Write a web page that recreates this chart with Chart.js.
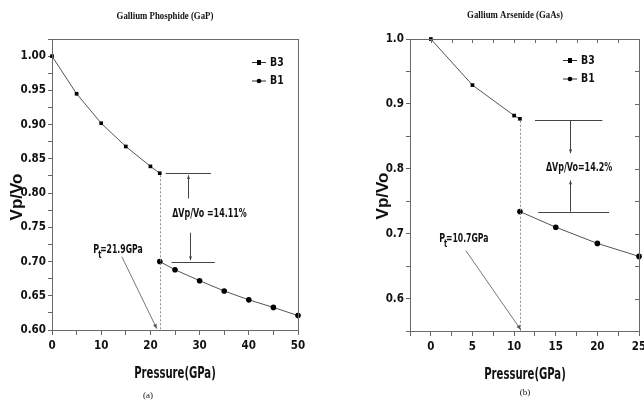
<!DOCTYPE html>
<html>
<head>
<meta charset="utf-8">
<script src="https://cdn.jsdelivr.net/npm/chart.js@4"></script>
<style>
  html,body{margin:0;padding:0;background:#fff;width:644px;height:402px;overflow:hidden;}
  canvas{position:absolute;top:0;}
  #c1{left:0;} #c2{left:322px;}
</style>
</head>
<body>
<canvas id="c1" width="322" height="402"></canvas>
<canvas id="c2" width="322" height="402"></canvas>
<script>
// ---- Data: Gallium Phosphide (GaP) ----
const gapB3Pressure = [0, 5, 10, 15, 20, 21.9];
const gapB3Ratio    = [1.000, 0.945, 0.902, 0.868, 0.839, 0.829];
const gapB1Pressure = [21.9, 25, 30, 35, 40, 45, 50];
const gapB1Ratio    = [0.700, 0.688, 0.672, 0.657, 0.644, 0.633, 0.621];
const gapTransition = 21.9;

// ---- Data: Gallium Arsenide (GaAs) ----
const gaasB3Pressure = [0, 5, 10, 10.7];
const gaasB3Ratio    = [1.000, 0.929, 0.882, 0.877];
const gaasB1Pressure = [10.7, 15, 20, 25];
const gaasB1Ratio    = [0.734, 0.710, 0.685, 0.665];
const gaasTransition = 10.7;

const seriesNames = ['B3', 'B1'];

const NARROW = '"Liberation Sans Narrow", "DejaVu Sans Condensed", "Arial Narrow", sans-serif';
const SANS = '"Liberation Sans", Arial, sans-serif';
const SERIF = '"Liberation Serif", "Times New Roman", serif';

function toXY(xs, ys){ return xs.map((v,i)=>({x:v, y:ys[i]})); }

function arrow(ctx, x1, y1, x2, y2, size){
  ctx.beginPath(); ctx.moveTo(x1,y1); ctx.lineTo(x2,y2); ctx.stroke();
  const a = Math.atan2(y2-y1, x2-x1);
  ctx.beginPath();
  ctx.moveTo(x2,y2);
  ctx.lineTo(x2 - size*Math.cos(a-0.4), y2 - size*Math.sin(a-0.4));
  ctx.lineTo(x2 - size*Math.cos(a+0.4), y2 - size*Math.sin(a+0.4));
  ctx.closePath(); ctx.fill();
}

// text with horizontal compression
function sText(ctx, text, x, y, font, sx, align){
  ctx.save();
  ctx.font = font; ctx.textAlign = align || 'center'; ctx.textBaseline = 'middle';
  ctx.translate(x, y); ctx.scale(sx, 1);
  ctx.fillText(text, 0, 0);
  const w = ctx.measureText(text).width * sx;
  ctx.restore();
  return w;
}

const annotPlugin = {
  id: 'annot',
  afterDraw(chart){
    const spec = chart.options.plugins.annot;
    const {ctx, chartArea: ca} = chart;
    const xs = chart.scales.x, ys = chart.scales.y;
    const X = v => xs.getPixelForValue(v), Y = v => ys.getPixelForValue(v);
    ctx.save();
    // frame
    ctx.strokeStyle = '#6a6a6a'; ctx.lineWidth = 1;
    ctx.strokeRect(Math.round(ca.left)+0.5, Math.round(ca.top)+0.5, Math.round(ca.width), Math.round(ca.height));
    if (spec.innerTicks){
      ctx.beginPath();
      xs.ticks.forEach(t=>{ const px=Math.round(X(t.value))+0.5; ctx.moveTo(px, ca.top); ctx.lineTo(px, ca.top+4); });
      ys.ticks.forEach(t=>{ const py=Math.round(Y(t.value))+0.5; ctx.moveTo(ca.right, py); ctx.lineTo(ca.right-4, py); });
      ctx.stroke();
    }
    // dotted transition line
    ctx.strokeStyle = '#8a8a8a'; ctx.setLineDash([2,2]);
    ctx.beginPath();
    ctx.moveTo(Math.round(X(spec.pt))+0.5, Y(spec.ptTop));
    ctx.lineTo(Math.round(X(spec.pt))+0.5, ca.bottom);
    ctx.stroke();
    ctx.setLineDash([]);
    // delta markers
    ctx.strokeStyle = '#444'; ctx.fillStyle = '#444'; ctx.lineWidth = 1;
    spec.hlines.forEach(h=>{
      ctx.beginPath(); ctx.moveTo(X(h[0]), Math.round(Y(h[2]))+0.5); ctx.lineTo(X(h[1]), Math.round(Y(h[2]))+0.5); ctx.stroke();
    });
    spec.arrows.forEach(a=>{
      arrow(ctx, Math.round(X(a[0]))+0.5, Y(a[1]), Math.round(X(a[2]))+0.5, Y(a[3]), 4);
    });
    // delta text
    ctx.fillStyle = '#111';
    const LBL = 'bold 13px ' + NARROW;
    sText(ctx, spec.deltaText, X(spec.deltaPos[0]), Y(spec.deltaPos[1]), LBL, 0.68, 'center');
    // Pt label
    let lx = X(spec.ptLabelPos[0]), ly = Y(spec.ptLabelPos[1]);
    const pw = sText(ctx, 'P', lx, ly, LBL, 0.68, 'left');
    sText(ctx, 't', lx + pw - 1, ly + 6, 'bold 10px ' + NARROW, 0.75, 'left');
    sText(ctx, spec.ptText, lx + pw + 1, ly, LBL, 0.66, 'left');
    ctx.strokeStyle = '#777'; ctx.fillStyle = '#555';
    const pa = spec.ptArrow;
    arrow(ctx, X(pa[0]), Y(pa[1]), X(pa[2]), Y(pa[3]), 5);
    // legend
    const lg = spec.legend;
    seriesNames.forEach((name, i)=>{
      const yy = lg.y + i*18.5 + 0.5;
      ctx.strokeStyle = '#333'; ctx.lineWidth = 1;
      ctx.beginPath(); ctx.moveTo(lg.x, yy); ctx.lineTo(lg.x+14, yy); ctx.stroke();
      ctx.fillStyle = '#000';
      if (i === 0) ctx.fillRect(lg.x+5, yy-2.5, 4, 5);
      else { ctx.beginPath(); ctx.arc(lg.x+7, yy, 2.3, 0, Math.PI*2); ctx.fill(); }
      ctx.fillStyle = '#111';
      sText(ctx, name, lg.x+18, yy, 'bold 13px ' + NARROW, 0.8, 'left');
    });
    // titles
    ctx.fillStyle = '#111';
    sText(ctx, spec.title, spec.titlePos[0], spec.titlePos[1], 'bold 10px ' + SERIF, 0.88, 'center');
    sText(ctx, spec.sub, spec.subPos[0], spec.subPos[1], '9px ' + SERIF, 1, 'center');
    sText(ctx, 'Pressure(GPa)', spec.xTitlePos[0], spec.xTitlePos[1], 'bold 16px ' + NARROW, 0.7, 'center');
    ctx.save();
    ctx.translate(spec.yTitlePos[0], spec.yTitlePos[1]);
    ctx.rotate(-Math.PI/2);
    ctx.font = 'bold 17px ' + SANS;
    ctx.textAlign = 'center'; ctx.textBaseline = 'middle';
    ctx.fillText('Vp/Vo', 0, 0);
    ctx.restore();
    ctx.restore();
  }
};

function isMult(v, step){ const r = v/step; return Math.abs(r - Math.round(r)) < 1e-6; }

function makeChart(id, d){
  return new Chart(document.getElementById(id), {
    type: 'line',
    data: {
      datasets: [
        { label: seriesNames[0], data: toXY(d.b3x, d.b3y), borderColor: '#555', borderWidth: 1,
          pointStyle: 'rect', pointRadius: 2.6, pointBackgroundColor: '#000', pointBorderColor: '#000', pointBorderWidth: 0, tension: 0 },
        { label: seriesNames[1], data: toXY(d.b1x, d.b1y), borderColor: '#555', borderWidth: 1,
          pointStyle: 'circle', pointRadius: 2.8, pointBackgroundColor: '#000', pointBorderColor: '#000', pointBorderWidth: 0, tension: 0 }
      ]
    },
    options: {
      responsive: false, animation: false, devicePixelRatio: 1,
      clip: false,
      layout: { padding: d.padding },
      plugins: { legend: { display: false }, tooltip: { enabled: false }, title: { display: false }, annot: d.annot },
      scales: {
        x: {
          type: 'linear', min: d.xmin, max: d.xmax,
          ticks: { stepSize: d.xstep, autoSkip: false, maxRotation: 0, padding: 4,
            font: { family: NARROW, size: 11.5, weight: 'bold' }, color: '#111',
            callback: v => isMult(v, d.xmajor) ? String(Math.round(v)) : '' },
          grid: { drawOnChartArea: false, tickLength: 5, color: '#666' },
          border: { color: '#666' },
          afterFit: s => { s.height = d.xHeight; s.paddingLeft = 0; s.paddingRight = 0; }
        },
        y: {
          type: 'linear', min: d.ymin, max: d.ymax,
          ticks: { stepSize: d.ystep, autoSkip: false, padding: 2,
            font: { family: NARROW, size: 11.5, weight: 'bold' }, color: '#111',
            callback: v => isMult(v, d.ymajor) ? v.toFixed(d.ydec) : '' },
          grid: { drawOnChartArea: false, tickLength: 4, color: '#666' },
          border: { color: '#666' },
          afterFit: s => { s.width = d.yWidth; s.paddingTop = 0; s.paddingBottom = 0; }
        }
      }
    },
    plugins: [annotPlugin]
  });
}

makeChart('c1', {
  b3x: gapB3Pressure, b3y: gapB3Ratio, b1x: gapB1Pressure, b1y: gapB1Ratio,
  xmin: 0, xmax: 50, xstep: 5, xmajor: 10,
  ymin: 0.6, ymax: 1.025, ystep: 0.025, ymajor: 0.05, ydec: 2,
  padding: { top: 39, right: 24, left: 0, bottom: 0 },
  yWidth: 52, xHeight: 72,
  annot: {
    pt: gapTransition, ptTop: 0.826,
    hlines: [[23.1, 32.3, 0.829], [24.3, 33.1, 0.700]],
    arrows: [[27.6, 0.792, 27.6, 0.826], [28.0, 0.742, 28.0, 0.702]],
    deltaText: '\u0394Vp/Vo =14.11%', deltaPos: [32.0, 0.770],
    ptText: '=21.9GPa', ptLabelPos: [8.4, 0.717],
    ptArrow: [14.2, 0.707, 21.3, 0.602],
    legend: { x: 252, y: 62 },
    title: 'Gallium Phosphide (GaP)', titlePos: [165, 16],
    sub: '(a)', subPos: [148, 396],
    xTitlePos: [175, 374], yTitlePos: [17, 197],
    innerTicks: false
  }
});

makeChart('c2', {
  b3x: gaasB3Pressure, b3y: gaasB3Ratio, b1x: gaasB1Pressure, b1y: gaasB1Ratio,
  xmin: -2.5, xmax: 25, xstep: 2.5, xmajor: 5,
  ymin: 0.55, ymax: 1.0, ystep: 0.05, ymajor: 0.1, ydec: 1,
  padding: { top: 39, right: 5, left: 0, bottom: 0 },
  yWidth: 88, xHeight: 71,
  annot: {
    pt: gaasTransition, ptTop: 0.874,
    hlines: [[12.5, 20.6, 0.875], [12.9, 21.4, 0.734]],
    arrows: [[16.7, 0.875, 16.7, 0.824], [16.7, 0.734, 16.7, 0.782]],
    deltaText: '\u0394Vp/Vo=14.2%', deltaPos: [17.8, 0.802],
    ptText: '=10.7GPa', ptLabelPos: [1.0, 0.692],
    ptArrow: [4.2, 0.674, 10.8, 0.552],
    legend: { x: 241, y: 60 },
    title: 'Gallium Arsenide (GaAs)', titlePos: [193, 15],
    sub: '(b)', subPos: [203, 393],
    xTitlePos: [203, 375], yTitlePos: [61, 196],
    innerTicks: true
  }
});
</script>
</body>
</html>
